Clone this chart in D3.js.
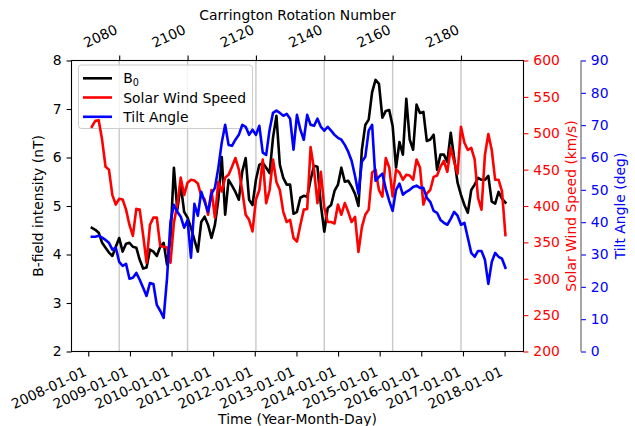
<!DOCTYPE html>
<html>
<head>
<meta charset="utf-8">
<script src="https://cdn.jsdelivr.net/npm/d3@7"></script>
<style>
body { margin: 0; background: #fff; }
text { font-family: "DejaVu Sans", sans-serif; font-size: 13.9px; }
</style>
</head>
<body>
<svg id="chart" width="635" height="426"></svg>
<script>
// Carrington rotation of each sample (x category)
const rotations = d3.range(2072, 2194);

const b0Values = [
	4.55, 4.51, 4.45, 4.24, 4.14, 4.04, 3.97, 4.16, 4.34, 4.06, 4.22, 4.24, 4.16, 4.14, 3.89, 3.71,
	3.73, 4.10, 4.06, 3.97, 4.16, 4.24, 3.79, 4.34, 5.79, 4.92, 5.44, 4.88, 4.76, 4.55, 4.30, 4.06,
	4.67, 4.78, 4.61, 4.34, 4.61, 5.13, 6.01, 4.82, 5.54, 5.42, 5.29, 5.13, 5.71, 5.99, 5.13, 5.02,
	5.54, 5.85, 5.89, 5.79, 5.68, 6.41, 6.86, 5.85, 5.58, 5.44, 5.44, 4.84, 4.88, 5.17, 5.21, 5.19,
	5.54, 5.83, 5.81, 5.02, 4.47, 4.96, 5.02, 5.31, 5.44, 5.79, 5.50, 5.52, 5.40, 5.25, 5.00, 6.16,
	6.67, 6.78, 7.35, 7.60, 7.52, 6.82, 6.96, 6.98, 6.65, 5.79, 6.32, 6.06, 7.21, 6.37, 6.16, 7.09,
	6.92, 6.94, 6.34, 6.37, 6.47, 5.75, 6.06, 6.06, 5.91, 6.51, 5.99, 5.48, 5.23, 5.02, 4.86, 5.33,
	5.44, 5.58, 5.54, 5.54, 5.62, 5.09, 5.05, 5.29, 5.15, 5.07
];
const speedValues = [
	509, 517, 518, 491, 454, 450, 415, 402, 410, 409, 395, 374, 359, 396, 395, 360,
	322, 374, 384, 384, 345, 344, 343, 322, 377, 402, 439, 415, 432, 436, 435, 431,
	414, 409, 388, 422, 384, 433, 420, 439, 443, 454, 466, 450, 421, 388, 381, 365,
	409, 422, 464, 404, 422, 464, 433, 422, 392, 378, 381, 356, 351, 374, 395, 396,
	481, 450, 404, 447, 398, 378, 378, 376, 402, 388, 404, 392, 378, 385, 337, 371,
	388, 395, 446, 450, 422, 413, 466, 453, 413, 450, 446, 436, 443, 442, 436, 464,
	453, 402, 417, 422, 440, 442, 454, 462, 447, 480, 461, 444, 509, 487, 477, 480,
	464, 411, 395, 470, 499, 477, 436, 436, 420, 360
];
const tiltValues = [
	35.5, 35.5, 35.8, 35.2, 34.5, 33.6, 31.5, 32.1, 27.7, 26.5, 27.1, 22.5, 22.8, 24.3, 22.2, 19.7,
	17.2, 21.2, 20.9, 14.4, 12.6, 10.4, 22.8, 40.1, 45.4, 43.2, 41.7, 38.3, 40.7, 29.0, 45.7, 42.0,
	49.4, 46.3, 43.2, 48.8, 50.6, 56.8, 64.6, 70.1, 63.9, 63.6, 65.5, 67.0, 70.1, 69.5, 67.0, 68.6,
	67.0, 69.8, 61.5, 60.8, 68.6, 73.8, 74.5, 73.8, 72.9, 73.5, 72.0, 62.4, 73.2, 68.6, 65.5, 73.2,
	70.1, 69.8, 72.0, 69.5, 68.3, 69.5, 68.3, 67.0, 66.1, 65.5, 63.9, 61.8, 59.0, 54.3, 48.8, 58.7,
	60.2, 68.3, 70.1, 52.8, 54.0, 55.0, 50.3, 46.6, 43.5, 50.0, 51.9, 48.5, 49.4, 50.0, 50.9, 51.3,
	50.6, 50.6, 47.5, 46.3, 43.5, 42.9, 40.7, 39.8, 39.2, 41.0, 43.2, 42.0, 39.2, 39.8, 35.2, 30.5,
	29.3, 31.1, 31.1, 28.4, 20.9, 27.7, 30.5, 29.3, 28.7, 25.9
];

const rotationTicks = [2080, 2100, 2120, 2140, 2160, 2180];
const dateTicks = ['2008-01-01', '2009-01-01', '2010-01-01', '2011-01-01', '2012-01-01', '2013-01-01',
                   '2014-01-01', '2015-01-01', '2016-01-01', '2017-01-01', '2018-01-01'];
const bTicks = [2, 3, 4, 5, 6, 7, 8];
const speedTicks = [200, 250, 300, 350, 400, 450, 500, 550, 600];
const tiltTicks = [0, 10, 20, 30, 40, 50, 60, 70, 80, 90];

const svg = d3.select('#chart');
const L = 71.5, R = 523.5, T = 60.5, B = 351.5;
const TILT_X = 581;
const TICK = 4.9, PAD = 4.9;
const ROT = 25;

const xRot = d3.scaleLinear().domain([2066.04, 2198.29]).range([L, R]);
const xDate = d3.scaleUtc()
                .domain([new Date(Date.UTC(2007, 7, 7)), new Date(Date.UTC(2018, 5, 16))])
                .range([L, R]);
const yB = d3.scaleLinear().domain([2, 8]).range([B, T]);
const ySpeed = d3.scaleLinear().domain([200, 600]).range([B, T]);
const yTilt = d3.scaleLinear().domain([0, 90]).range([B, T]);

// grid from the carrington axis
svg.append('g')
   .selectAll('line')
   .data(rotationTicks)
   .join('line')
   .attr('x1', d => xRot(d)).attr('x2', d => xRot(d))
   .attr('y1', T).attr('y2', B)
   .attr('stroke', '#c8c8c8').attr('stroke-width', 1.4);

const lineOf = (vals, y) => d3.line()
	.x((d, i) => xRot(rotations[i]))
	.y(d => y(d))(vals);

const drawSeries = (vals, y, colour) =>
	svg.append('path')
	   .attr('d', lineOf(vals, y))
	   .attr('fill', 'none')
	   .attr('stroke', colour)
	   .attr('stroke-width', 2.6)
	   .attr('stroke-linejoin', 'round')
	   .attr('stroke-linecap', 'square');

drawSeries(b0Values, yB, '#000');

// legend belongs to the first axes, so the twin lines go over it
const legend = svg.append('g');
legend.append('rect')
      .attr('x', 78.5).attr('y', 65).attr('width', 174).attr('height', 63.5)
      .attr('rx', 2.8)
      .attr('fill', '#fff').attr('fill-opacity', 0.8)
      .attr('stroke', '#cccccc').attr('stroke-width', 1);
const entries = [['#000', 78.3], ['#ff0000', 97.5], ['#0000ff', 116.8]];
entries.forEach(([c, y]) => {
	legend.append('line').attr('x1', 83).attr('x2', 112).attr('y1', y).attr('y2', y)
	      .attr('stroke', c).attr('stroke-width', 2.6);
});
const lt0 = legend.append('text').attr('x', 123.3).attr('y', 78.3).attr('dy', '0.36em');
lt0.append('tspan').text('B');
lt0.append('tspan').attr('dy', 3).attr('font-size', '9.7px').text('0');
legend.append('text').attr('x', 123.3).attr('y', 97.5).attr('dy', '0.36em').text('Solar Wind Speed');
legend.append('text').attr('x', 123.3).attr('y', 116.8).attr('dy', '0.36em').text('Tilt Angle');

drawSeries(speedValues, ySpeed, '#ff0000');
drawSeries(tiltValues, yTilt, '#0000ff');

// frame
svg.append('rect')
   .attr('x', L).attr('y', T).attr('width', R - L).attr('height', B - T)
   .attr('fill', 'none').attr('stroke', '#000').attr('stroke-width', 1.1);

function styleAxis(g, colour) {
	g.select('.domain').remove();
	g.attr('font-family', null).attr('font-size', null);
	g.selectAll('line').attr('stroke', colour).attr('stroke-width', 1.1);
	g.selectAll('text').attr('fill', colour);
}

// rotate labels, align bbox right to the tick and top/bottom to the given edge
function rotateLabels(g, edge, va) {
	g.selectAll('text').each(function() {
		const t = d3.select(this).attr('text-anchor', 'end').attr('x', 0).attr('y', 0).attr('dy', null);
		t.attr('transform', `translate(0,${edge}) rotate(${-ROT})`);
		const r = this.getBoundingClientRect();
		const p = this.parentNode.getScreenCTM();
		const dx = p.e - r.right;
		const dy = va === 'top' ? (p.f + edge) - r.top : (p.f + edge) - r.bottom;
		t.attr('transform', `translate(${dx},${edge + dy}) rotate(${-ROT})`);
	});
}

// left B axis
svg.append('g').attr('transform', `translate(${L},0)`)
   .call(d3.axisLeft(yB).tickValues(bTicks).tickSize(TICK).tickPadding(PAD).tickFormat(d3.format('d')))
   .call(g => styleAxis(g, '#000'));

// red speed axis
svg.append('g').attr('transform', `translate(${R},0)`)
   .call(d3.axisRight(ySpeed).tickValues(speedTicks).tickSize(TICK).tickPadding(PAD).tickFormat(d3.format('d')))
   .call(g => styleAxis(g, '#ff0000'));

// blue tilt axis, offset spine
const tiltAx = svg.append('g').attr('transform', `translate(${TILT_X},0)`)
   .call(d3.axisRight(yTilt).tickValues(tiltTicks).tickSize(TICK).tickPadding(PAD).tickFormat(d3.format('d')))
   .call(g => styleAxis(g, '#0000ff'));
tiltAx.append('line').attr('x1', 0).attr('x2', 0).attr('y1', T).attr('y2', B)
      .attr('stroke', '#6a6a6a').attr('stroke-width', 1.2);

// bottom date axis
const parseDay = d3.utcParse('%Y-%m-%d');
const dateAx = svg.append('g').attr('transform', `translate(0,${B})`)
   .call(d3.axisBottom(xDate).tickValues(dateTicks.map(parseDay)).tickSize(TICK).tickPadding(PAD)
          .tickFormat(d3.utcFormat('%Y-%m-%d')))
   .call(g => styleAxis(g, '#000'));
rotateLabels(dateAx, TICK + PAD + 2, 'top');

// top carrington axis
const rotAx = svg.append('g').attr('transform', `translate(0,${T})`)
   .call(d3.axisTop(xRot).tickValues(rotationTicks).tickSize(TICK).tickPadding(PAD).tickFormat(d3.format('d')))
   .call(g => styleAxis(g, '#000'));
rotateLabels(rotAx, -(TICK + PAD), 'bottom');

// axis titles
svg.append('text').attr('x', (L + R) / 2).attr('y', 20).attr('text-anchor', 'middle')
   .text('Carrington Rotation Number');
svg.append('text').attr('x', (L + R) / 2).attr('y', 423.5).attr('text-anchor', 'middle')
   .text('Time (Year-Month-Day)');
svg.append('text').attr('transform', `translate(43,${(T + B) / 2}) rotate(-90)`).attr('text-anchor', 'middle')
   .text('B-field intensity (nT)');
svg.append('text').attr('transform', `translate(576,${(T + B) / 2}) rotate(-90)`).attr('text-anchor', 'middle')
   .attr('fill', '#ff0000').text('Solar Wind Speed (km/s)');
svg.append('text').attr('transform', `translate(625,${(T + B) / 2}) rotate(-90)`).attr('text-anchor', 'middle')
   .attr('fill', '#0000ff').text('Tilt Angle (deg)');
</script>
</body>
</html>
